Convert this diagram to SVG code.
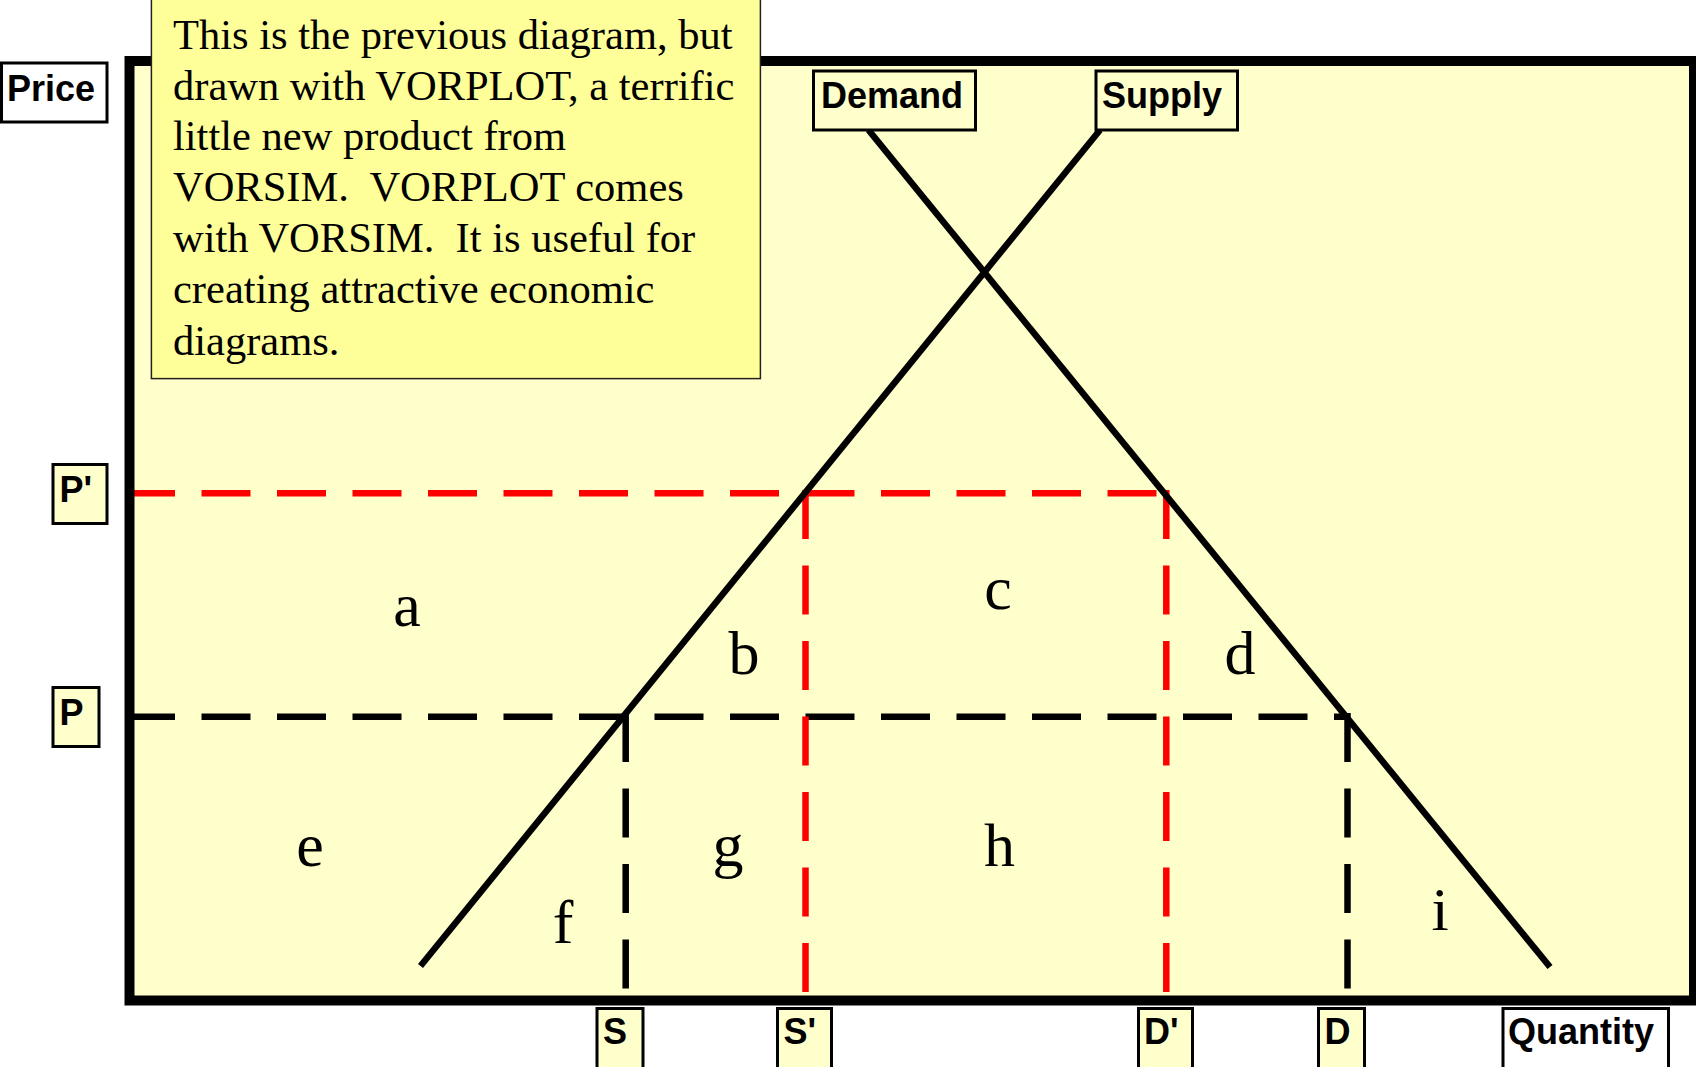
<svg xmlns="http://www.w3.org/2000/svg" width="1696" height="1067" viewBox="0 0 1696 1067">
<style>
.lbl{fill:#FFFFCC;stroke:#000;stroke-width:3}
.lblw{fill:#FFFFFF;stroke:#000;stroke-width:3}
.bt{font-family:"Liberation Sans",Arial,sans-serif;font-weight:bold;font-size:36px;fill:#000}
.rt{font-family:"Liberation Serif","Times New Roman",serif;font-size:62px;fill:#000;text-anchor:middle}
.note{font-family:"Liberation Serif","Times New Roman",serif;font-size:42.5px;fill:#000;white-space:pre}
.curve{stroke:#000;stroke-width:6.5;fill:none}
.dr{stroke:#FF0000;stroke-width:6.5;fill:none;stroke-dasharray:49 26.5}
.dk{stroke:#000;stroke-width:6.5;fill:none;stroke-dasharray:49 26.5}
</style>
<rect x="0" y="0" width="1696" height="1067" fill="#FFFFFF"/>
<g id="frame-bg">
<rect x="129.5" y="61" width="1564.5" height="939.5" fill="#FFFFCC"/>
</g>
<g id="connectors">
<line class="dr" x1="126" y1="493.3" x2="1166.3" y2="493.3"/>
<line class="dk" x1="126" y1="716.7" x2="1350" y2="716.7"/>
<line class="dr" x1="805.5" y1="490" x2="805.5" y2="995"/>
<line class="dr" x1="1166.3" y1="490" x2="1166.3" y2="995"/>
<line class="dk" x1="625.7" y1="713" x2="625.7" y2="995"/>
<line class="dk" x1="1347.5" y1="713" x2="1347.5" y2="995"/>
<line class="curve" x1="868.5" y1="130" x2="1550" y2="967"/>
<line class="curve" x1="1100" y1="130" x2="420.5" y2="966"/>
</g>
<g id="areas">
<text class="rt" x="407" y="626">a</text>
<text class="rt" x="744" y="674">b</text>
<text class="rt" x="998" y="609">c</text>
<text class="rt" x="1240" y="674">d</text>
<text class="rt" x="310" y="866">e</text>
<text class="rt" x="563" y="943">f</text>
<text class="rt" x="728" y="866">g</text>
<text class="rt" x="999.5" y="866">h</text>
<text class="rt" x="1440" y="930">i</text>
</g>
<g id="frame">
<rect x="129.5" y="61" width="1564.5" height="939.5" fill="none" stroke="#000" stroke-width="10"/>
</g>
<g id="note">
<rect x="151.4" y="-4" width="609" height="382.6" fill="#FFFF99" stroke="#222" stroke-width="1.5"/>
<text class="note" x="173" y="48.7" xml:space="preserve">This is the previous diagram, but</text>
<text class="note" x="173" y="99.5" xml:space="preserve">drawn with VORPLOT, a terrific</text>
<text class="note" x="173" y="150.3" xml:space="preserve">little new product from</text>
<text class="note" x="173" y="201.2" xml:space="preserve">VORSIM.  VORPLOT comes</text>
<text class="note" x="173" y="252" xml:space="preserve">with VORSIM.  It is useful for</text>
<text class="note" x="173" y="302.8" xml:space="preserve">creating attractive economic</text>
<text class="note" x="173" y="354.8" xml:space="preserve">diagrams.</text>
</g>
<g id="price">
<rect class="lblw" x="1.5" y="63" width="105.5" height="59"/>
<text class="bt" x="7" y="100.5">Price</text>
</g>
<g id="demand">
<rect class="lbl" x="813.5" y="71" width="162" height="59"/>
<text class="bt" x="821" y="108">Demand</text>
</g>
<g id="supply">
<rect class="lbl" x="1096" y="71" width="141.5" height="59"/>
<text class="bt" x="1102" y="108">Supply</text>
</g>
<g id="p-prime">
<rect class="lbl" x="53" y="464.5" width="54" height="59"/>
<text class="bt" x="59.5" y="501.5">P'</text>
</g>
<g id="p">
<rect class="lbl" x="53" y="687.5" width="46" height="59"/>
<text class="bt" x="59.5" y="725">P</text>
</g>
<g id="s">
<rect class="lbl" x="597" y="1008.5" width="46" height="62"/>
<text class="bt" x="603" y="1044">S</text>
</g>
<g id="s-prime">
<rect class="lbl" x="777.5" y="1008.5" width="54" height="62"/>
<text class="bt" x="783.5" y="1044">S'</text>
</g>
<g id="d-prime">
<rect class="lbl" x="1138.5" y="1008.5" width="54" height="62"/>
<text class="bt" x="1144" y="1044">D'</text>
</g>
<g id="d">
<rect class="lbl" x="1318.5" y="1008.5" width="46" height="62"/>
<text class="bt" x="1324.5" y="1044">D</text>
</g>
<g id="quantity">
<rect class="lblw" x="1503" y="1008.5" width="165.5" height="62"/>
<text class="bt" x="1508" y="1044">Quantity</text>
</g>
</svg>
